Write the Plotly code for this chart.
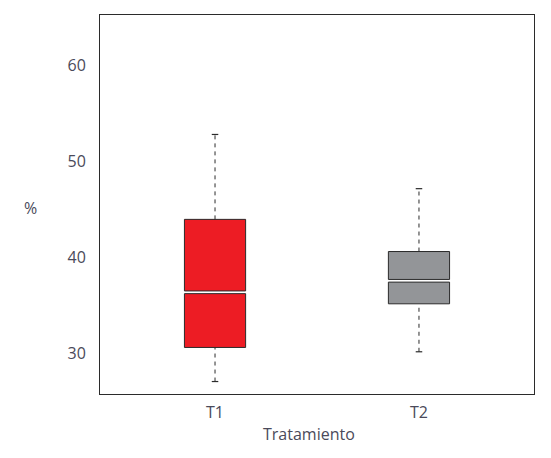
import plotly.graph_objects as go

# box summaries
treatments = ["T1", "T2"]
lower_fence = [27.1, 30.2]
q1 = [30.65, 35.2]
median = [36.4, 37.6]
q3 = [44.0, 40.65]
upper_fence = [52.85, 47.2]
box_colors = ["#ED1C24", "#939598"]

y_ticks = [30, 40, 50, 60]

EDGE = "#2b2b2b"
TEXT = "#4a4a5a"
FONT = "Open Sans"
BOX_W = 0.30
GAP = 0.14  # half of the white gap at the median, in data units
CAP = 0.016

x_pos = list(range(len(treatments)))

fig = go.Figure()

# dashed whiskers, drawn first so the boxes sit on top
for i, x in enumerate(x_pos):
    for a, b in ((lower_fence[i], q1[i]), (q3[i], upper_fence[i])):
        fig.add_trace(go.Scatter(
            x=[x, x], y=[a, b], mode="lines",
            line={"color": EDGE, "width": 1, "dash": "4px,4px"},
            hoverinfo="skip", showlegend=False,
        ))
    for v in (lower_fence[i], upper_fence[i]):
        fig.add_trace(go.Scatter(
            x=[x - CAP, x + CAP], y=[v, v], mode="lines",
            line={"color": EDGE, "width": 1.2},
            hoverinfo="skip", showlegend=False,
        ))

# each box is two bars split at the median
fig.add_trace(go.Bar(
    x=x_pos, base=q1, y=[m - GAP - a for m, a in zip(median, q1)],
    width=BOX_W, marker={"color": box_colors, "line": {"color": EDGE, "width": 1}},
    showlegend=False,
))
fig.add_trace(go.Bar(
    x=x_pos, base=[m + GAP for m in median], y=[b - m - GAP for m, b in zip(median, q3)],
    width=BOX_W, marker={"color": box_colors, "line": {"color": EDGE, "width": 1}},
    showlegend=False,
))

# page body adds an 8px offset, so the figure is a bit smaller than the window
fig.update_layout(
    width=543, height=450,
    margin={"l": 92, "r": 17, "t": 7, "b": 64},
    plot_bgcolor="white", paper_bgcolor="white",
    barmode="overlay",
    font={"family": FONT, "size": 16, "color": TEXT},
    showlegend=False,
)
fig.update_xaxes(
    range=[-0.564, 1.564], tickvals=x_pos, ticktext=treatments,
    showgrid=False, zeroline=False, showline=True, mirror=True,
    linecolor=EDGE, linewidth=1, ticks="", ticklabelstandoff=4,
)
fig.update_yaxes(
    range=[25.8, 65.3], tickvals=y_ticks,
    showgrid=False, zeroline=False, showline=True, mirror=True,
    linecolor=EDGE, linewidth=1, ticks="", ticklabelstandoff=10,
)
fig.add_annotation(text="%", xref="paper", yref="paper", x=-0.161, y=0.491,
                   showarrow=False, xanchor="center", yanchor="middle")
fig.add_annotation(text="Tratamiento", xref="paper", yref="paper", x=0.482, y=-0.105,
                   showarrow=False, xanchor="center", yanchor="middle")

fig.write_html("out.html")
